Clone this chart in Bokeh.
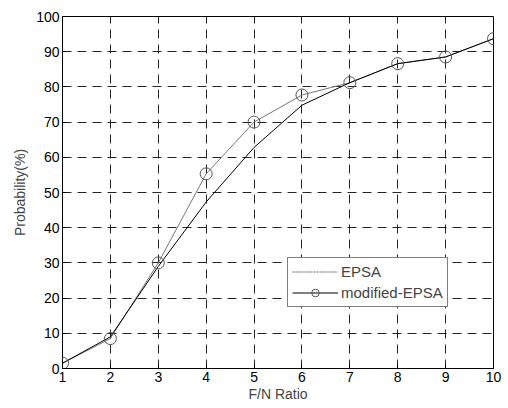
from bokeh.plotting import figure
from bokeh.models import Legend, LegendItem, FixedTicker, Range1d
from bokeh.embed import file_html
from bokeh.resources import INLINE

fn_ratio = [1, 2, 3, 4, 5, 6, 7, 8, 9, 10]
upper_vals = [1.5, 8.5, 30, 55.3, 70, 77.7, 81.2, 86.6, 88.5, 93.7]
lower_vals = [1.5, 9.0, 29.0, 47.3, 62.8, 74.8, 81.2, 86.6, 88.5, 93.7]
x_ticks = [1, 2, 3, 4, 5, 6, 7, 8, 9, 10]
y_ticks = [0, 10, 20, 30, 40, 50, 60, 70, 80, 90, 100]

FONT = "Liberation Sans"

p = figure(width=508, height=408, output_backend="svg", toolbar_location=None,
           x_range=Range1d(1, 10), y_range=Range1d(0, 100),
           min_border_left=62, min_border_right=15, min_border_top=16, min_border_bottom=40)

p.outline_line_color = "black"
p.outline_line_width = 1
p.background_fill_color = "white"
p.border_fill_color = "white"

for ax in (p.xaxis[0], p.yaxis[0]):
    ax.major_label_text_font = FONT
    ax.major_label_text_font_size = "14px"
    ax.major_label_text_color = "black"
    ax.axis_label_text_font = FONT
    ax.axis_label_text_font_size = "14px"
    ax.axis_label_text_font_style = "normal"
    ax.axis_line_color = "black"
    ax.major_tick_in = 4
    ax.major_tick_out = 0
    ax.minor_tick_line_color = None
    ax.major_label_standoff = 3

p.xaxis[0].ticker = FixedTicker(ticks=x_ticks)
p.yaxis[0].ticker = FixedTicker(ticks=y_ticks)
p.xaxis[0].axis_label = "F/N Ratio"
p.yaxis[0].axis_label = "Probability(%)"
p.xaxis[0].axis_label_standoff = 1
p.yaxis[0].axis_label_standoff = 5

for g in (p.xgrid[0], p.ygrid[0]):
    g.grid_line_color = "black"
    g.grid_line_dash = "9 6"
    g.grid_line_width = 1
    g.grid_line_alpha = 0.85
p.xgrid[0].ticker = FixedTicker(ticks=x_ticks)
p.ygrid[0].ticker = FixedTicker(ticks=y_ticks)

upper_line = p.line(fn_ratio, upper_vals, line_color="#777777", line_width=1)
lower_line = p.line(fn_ratio, lower_vals, line_color="black", line_width=1)
circles = p.scatter(fn_ratio, upper_vals, marker="circle", size=12,
                    fill_color=None, line_color="#555555", line_width=1)

# off-range line used only as the EPSA legend swatch (clipped by fixed ranges)
legend_dot = p.line([-5, -4], [-5, -4], line_color="#666666", line_width=1, line_dash="2 1")
legend = Legend(items=[
    LegendItem(label="EPSA", renderers=[legend_dot]),
    LegendItem(label="modified-EPSA", renderers=[lower_line, circles]),
], location=(225, 61))
legend.label_text_font = FONT
legend.label_text_font_size = "15px"
legend.glyph_width = 46
legend.glyph_height = 19
legend.label_height = 19
legend.label_standoff = 3
legend.spacing = 2
legend.padding = 4
legend.margin = 0
legend.border_line_color = "black"
legend.border_line_width = 1
legend.background_fill_alpha = 1
p.add_layout(legend, "center")

open("out.html", "w").write(file_html(p, INLINE))
